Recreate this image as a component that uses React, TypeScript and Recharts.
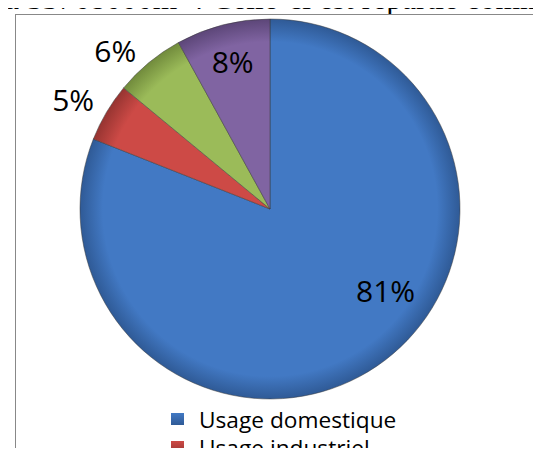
import { PieChart, Pie, Cell, Legend } from 'recharts';

const categories = ['Usage domestique', 'Usage industriel', 'Usage agricole', 'Autres usages'];
const shares = [81, 5, 6, 8];
const colors = ['#4279C4', '#CD4A46', '#9BBB59', '#8064A2'];
const edgeColors = ['#2F5A96', '#963431', '#718B3C', '#5C4678'];

// label placement tweaks (fraction of radius, degrees added to mid angle)
const labelRadius = [0.75, 1.18, 1.16, 0.79];
const labelShift = [20, 2, 5, 0];

const data = categories.map((name, i) => ({ name, value: shares[i] }));

const RADIAN = Math.PI / 180;

const renderLabel = (props: any) => {
  const { cx, cy, midAngle, outerRadius, index, value } = props;
  const r = outerRadius * labelRadius[index];
  const a = (midAngle + labelShift[index]) * RADIAN;
  const x = cx + r * Math.cos(-a);
  const y = cy + r * Math.sin(-a) - 2;
  return (
    <text
      x={x}
      y={y}
      textAnchor="middle"
      dominantBaseline="central"
      fill="#000"
      fontSize={30}
      fontFamily="'Open Sans', sans-serif"
    >
      {`${value}%`}
    </text>
  );
};

const renderLegend = () => (
  <div style={{ fontFamily: "'Open Sans', sans-serif", fontSize: 22.7, color: '#000' }}>
    {categories.map((name, i) => (
      <div key={name} style={{ display: 'flex', alignItems: 'center', height: 28 }}>
        <span
          style={{
            display: 'inline-block',
            width: 13,
            height: 12,
            marginRight: 15,
            background: `linear-gradient(180deg, ${colors[i]} 0%, ${edgeColors[i]} 100%)`,
          }}
        />
        <span style={{ whiteSpace: 'nowrap' }}>{name}</span>
      </div>
    ))}
  </div>
);

const App = () => {
  return (
    <div
      style={{
        position: 'relative',
        width: 541,
        height: 456,
        margin: -8,
        overflow: 'hidden',
        background: '#fff',
      }}
    >
      <div
        style={{
          position: 'absolute',
          left: 15,
          top: 14,
          width: 600,
          height: 600,
          border: '1px solid #888',
        }}
      />
      <div style={{ position: 'absolute', left: 0, top: 0 }}>
        <PieChart width={541} height={456} margin={{ top: 0, right: 0, bottom: 0, left: 0 }}>
          <defs>
            {colors.map((c, i) => (
              <radialGradient
                key={i}
                id={`slice${i}`}
                gradientUnits="userSpaceOnUse"
                cx={270}
                cy={209}
                r={190}
              >
                <stop offset="0%" stopColor={c} />
                <stop offset="88%" stopColor={c} />
                <stop offset="100%" stopColor={edgeColors[i]} />
              </radialGradient>
            ))}
          </defs>
          <Pie
            data={data}
            dataKey="value"
            nameKey="name"
            cx={270}
            cy={209}
            outerRadius={190}
            startAngle={90}
            endAngle={-270}
            stroke="#3a3a3a"
            strokeWidth={0.5}
            label={renderLabel}
            labelLine={false}
            isAnimationActive={false}
          >
            {data.map((_, i) => (
              <Cell key={i} fill={`url(#slice${i})`} />
            ))}
          </Pie>
          <Legend
            layout="vertical"
            content={renderLegend}
            wrapperStyle={{ position: 'absolute', left: 171, top: 405, width: 300 }}
          />
        </PieChart>
      </div>
      <svg width={541} height={14} style={{ position: 'absolute', left: 0, top: 0, zIndex: 5 }}>
        <text x={5} y={9} fontFamily="'Liberation Serif', 'Times New Roman', serif" fontSize={31.5} fill="#000">
          à 53768000m³ : Celle-ci est répartie comme suit :
        </text>
      </svg>
    </div>
  );
};

export default App;
